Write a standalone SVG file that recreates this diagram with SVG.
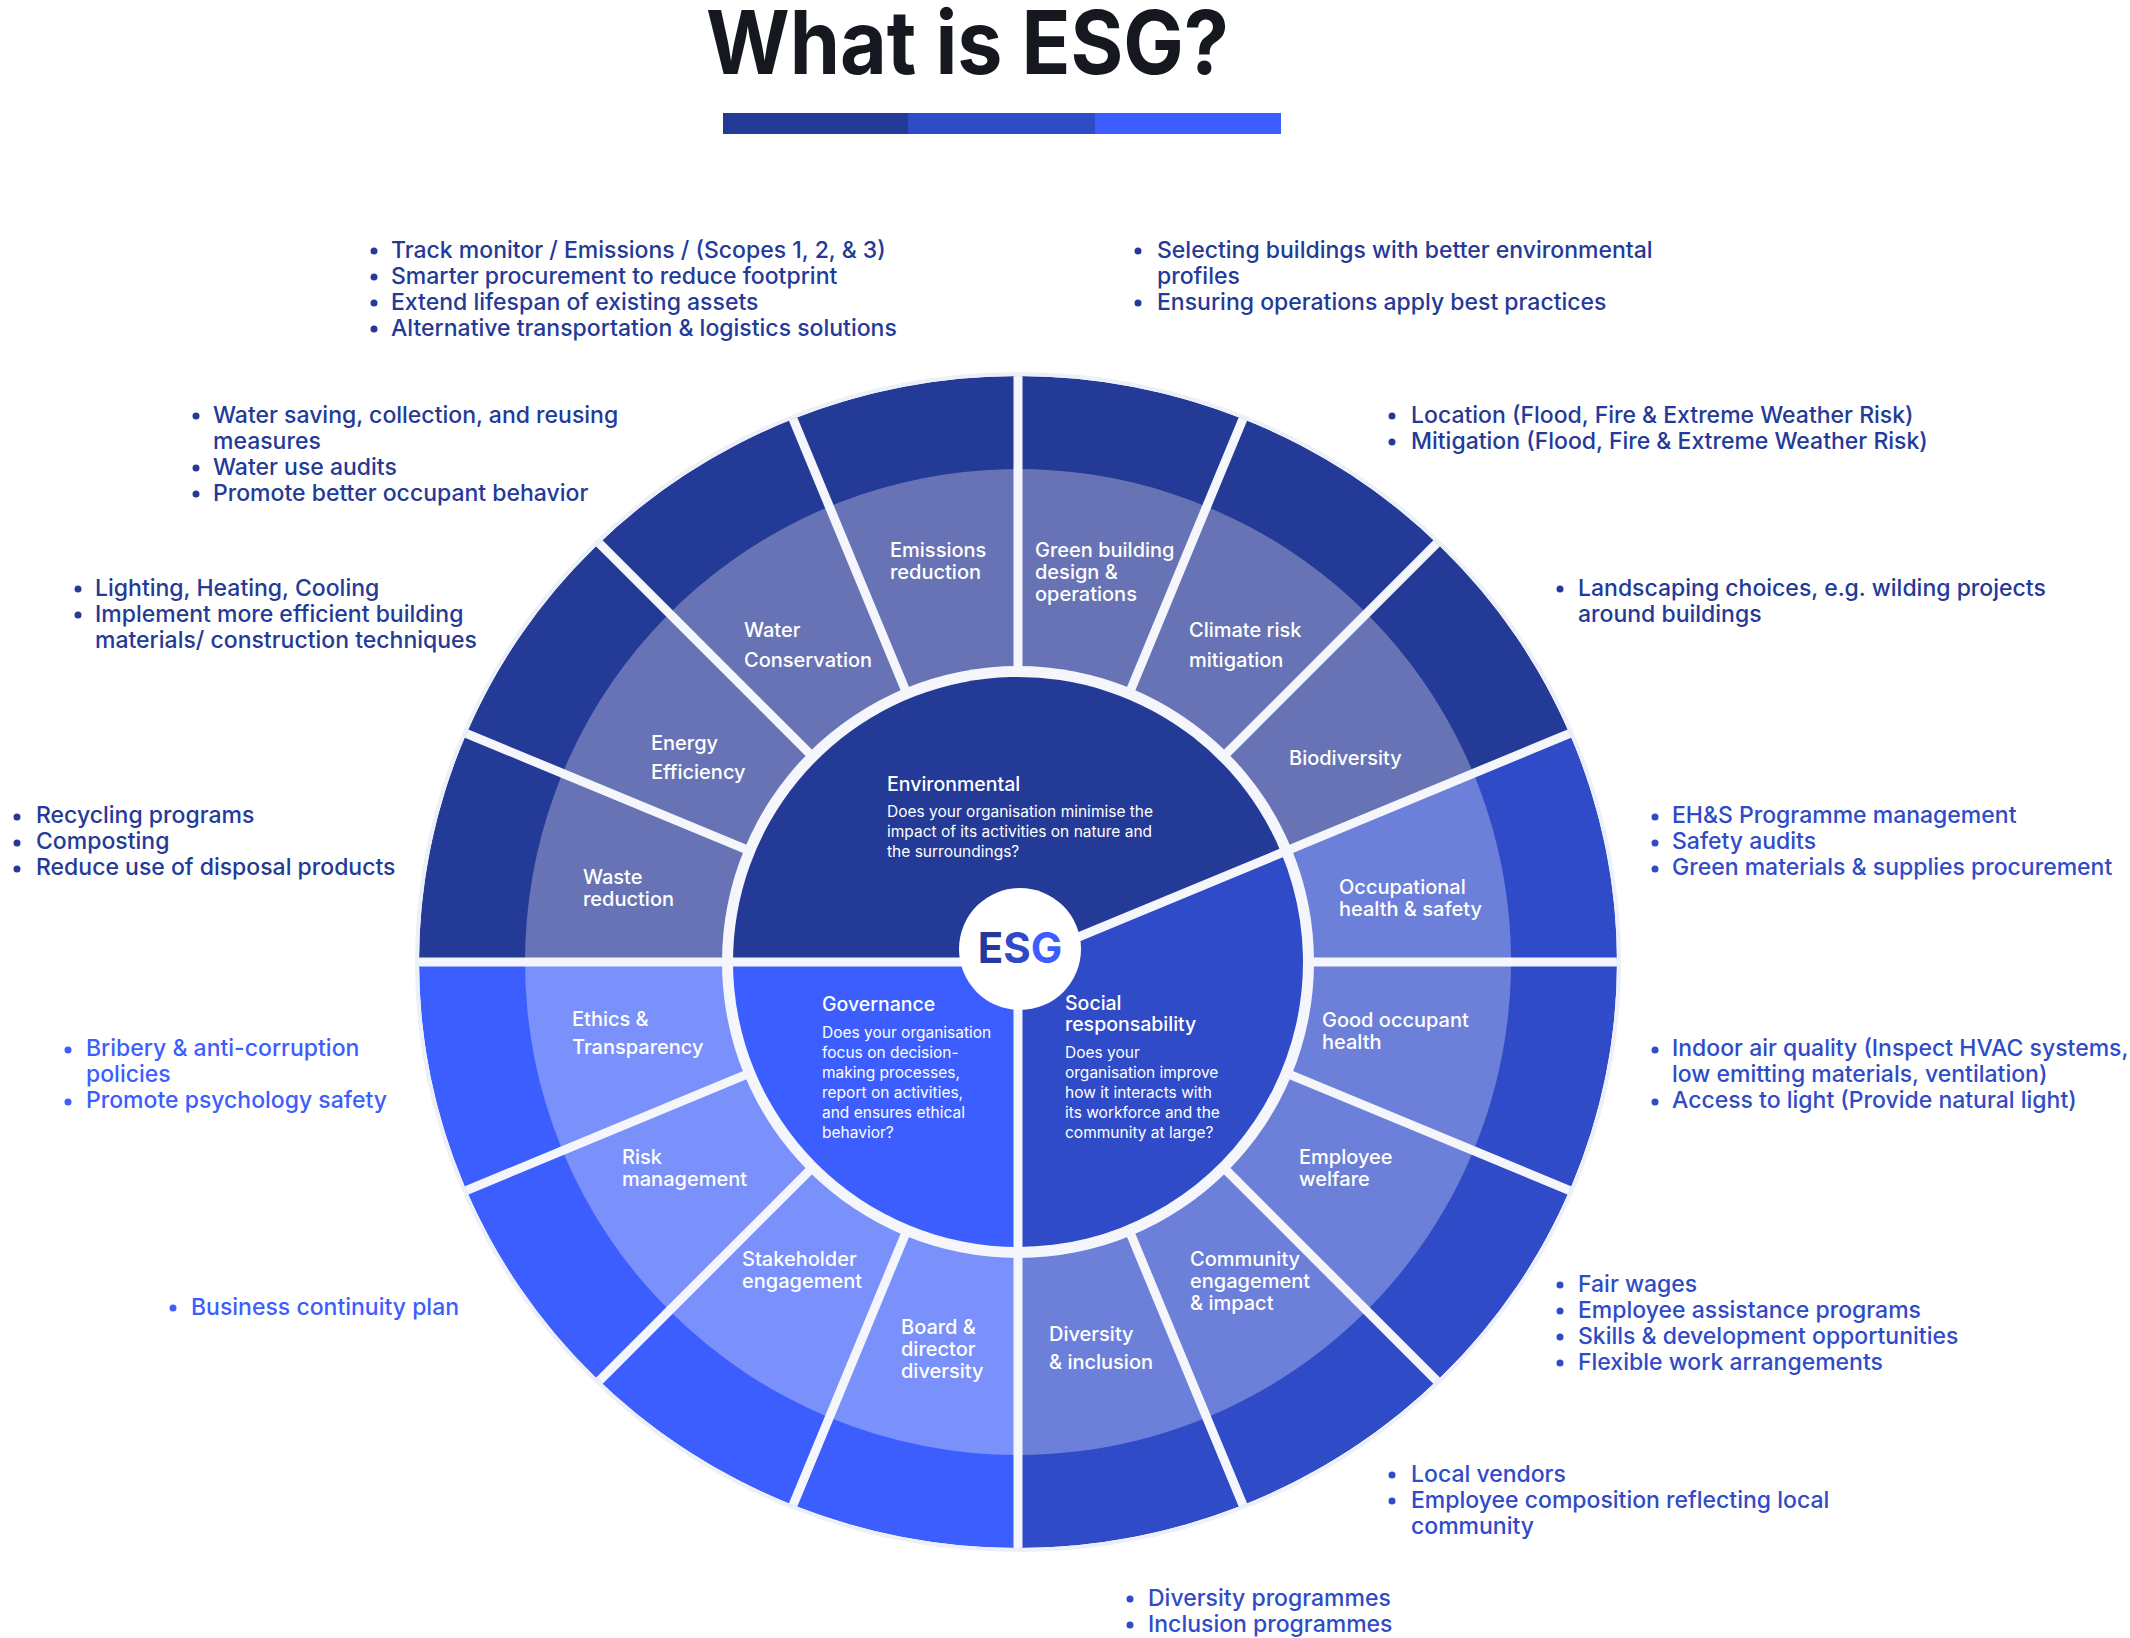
<svg xmlns="http://www.w3.org/2000/svg" width="2130" height="1638" viewBox="0 0 2130 1638">
<defs>
<style>
text{font-family:Inter,"Noto Sans","Liberation Sans",sans-serif}
.title{font-size:88px;font-weight:700;fill:#15181f}
.lbl{font-size:20px;font-weight:500;fill:#fff}
.hd{font-size:19.5px;font-weight:500;fill:#fff}
.ds{font-size:15.5px;font-weight:400;fill:#fff}
.bl{font-size:23px;font-weight:500}
.env{fill:#243a97}.soc{fill:#2f4bc7}.gov{fill:#3d5eff}
.div{stroke:#f4f6fb;stroke-width:9;fill:none}
</style>
<clipPath id="outerClip"><ellipse cx="0" cy="0" rx="599" ry="586"/></clipPath>
</defs>
<rect width="2130" height="1638" fill="#ffffff"/>

<g id="title">
<text class="title" x="706" y="74" textLength="523" lengthAdjust="spacingAndGlyphs">What is ESG?</text>
<rect x="723" y="113" width="185" height="21" fill="#243a97"/>
<rect x="908" y="113" width="187" height="21" fill="#2f4bc7"/>
<rect x="1095" y="113" width="186" height="21" fill="#3d5eff"/>
</g>

<g id="wheel" transform="translate(1018,962)">
<g clip-path="url(#outerClip)">
<g id="outer-ring">
<path class="env" d="M0 0 L-700 0 A700 700 0 0 1 646.72 -267.88 Z"/>
<path class="soc" d="M0 0 L646.72 -267.88 A700 700 0 0 1 0 700 Z"/>
<path class="gov" d="M0 0 L0 700 A700 700 0 0 1 -700 0 Z"/>
</g>
<g id="middle-ring">
<path fill="#6773b5" d="M0 0 L-493 0 A493 493 0 0 1 455.47 -188.66 Z"/>
<path fill="#6c80d9" d="M0 0 L455.47 -188.66 A493 493 0 0 1 0 493 Z"/>
<path fill="#7a90fb" d="M0 0 L0 493 A493 493 0 0 1 -493 0 Z"/>
</g>
<circle r="296" fill="#f4f6fb"/>
<g id="dividers">
<line class="div" x1="-280" y1="0" x2="-700" y2="0"/>
<line class="div" x1="-258.69" y1="-107.15" x2="-646.72" y2="-267.88"/>
<line class="div" x1="-197.99" y1="-197.99" x2="-494.97" y2="-494.97"/>
<line class="div" x1="-107.15" y1="-258.69" x2="-267.88" y2="-646.72"/>
<line class="div" x1="0" y1="-280" x2="0" y2="-700"/>
<line class="div" x1="107.15" y1="-258.69" x2="267.88" y2="-646.72"/>
<line class="div" x1="197.99" y1="-197.99" x2="494.97" y2="-494.97"/>
<line class="div" x1="258.69" y1="-107.15" x2="646.72" y2="-267.88"/>
<line class="div" x1="280" y1="0" x2="700" y2="0"/>
<line class="div" x1="258.69" y1="107.15" x2="646.72" y2="267.88"/>
<line class="div" x1="197.99" y1="197.99" x2="494.97" y2="494.97"/>
<line class="div" x1="107.15" y1="258.69" x2="267.88" y2="646.72"/>
<line class="div" x1="0" y1="280" x2="0" y2="700"/>
<line class="div" x1="-107.15" y1="258.69" x2="-267.88" y2="646.72"/>
<line class="div" x1="-197.99" y1="197.99" x2="-494.97" y2="494.97"/>
<line class="div" x1="-258.69" y1="107.15" x2="-646.72" y2="267.88"/>
</g>
</g>
<ellipse rx="601" ry="588" fill="none" stroke="#eef0f8" stroke-width="4"/>
<g id="inner-disk">
<path class="env" d="M0 0 L-285 0 A285 285 0 0 1 263.31 -109.06 Z"/>
<path class="soc" d="M0 0 L263.31 -109.06 A285 285 0 0 1 0 285 Z"/>
<path class="gov" d="M0 0 L0 285 A285 285 0 0 1 -285 0 Z"/>
<line class="div" stroke-width="10" x1="0" y1="0" x2="-290" y2="0"/>
<line class="div" stroke-width="10" x1="0" y1="0" x2="267.93" y2="-110.98"/>
<line class="div" stroke-width="10" x1="0" y1="0" x2="0" y2="290"/>
</g>
<g id="esg-core">
<circle cx="2" cy="-13" r="61" fill="#ffffff"/>
</g>
</g>
<text x="1020" y="963" text-anchor="middle" style="font-size:42px;font-weight:700"><tspan fill="#26399a">E</tspan><tspan fill="#3049c6">S</tspan><tspan fill="#3d5eff">G</tspan></text>

<g id="environmental">
<text class="hd" x="887" y="791">Environmental</text>
<text class="ds" x="887" y="817">Does your organisation minimise the</text>
<text class="ds" x="887" y="837">impact of its activities on nature and</text>
<text class="ds" x="887" y="857">the surroundings?</text>
</g>
<g id="governance">
<text class="hd" x="822" y="1011">Governance</text>
<text class="ds" x="822" y="1038">Does your organisation</text>
<text class="ds" x="822" y="1058">focus on decision-</text>
<text class="ds" x="822" y="1078">making processes,</text>
<text class="ds" x="822" y="1098">report on activities,</text>
<text class="ds" x="822" y="1118">and ensures ethical</text>
<text class="ds" x="822" y="1138">behavior?</text>
</g>
<g id="social">
<text class="hd" x="1065" y="1010">Social</text>
<text class="hd" x="1065" y="1031">responsability</text>
<text class="ds" x="1065" y="1058">Does your</text>
<text class="ds" x="1065" y="1078">organisation improve</text>
<text class="ds" x="1065" y="1098">how it interacts with</text>
<text class="ds" x="1065" y="1118">its workforce and the</text>
<text class="ds" x="1065" y="1138">community at large?</text>
</g>

<g id="seg-emissions"><text class="lbl" x="890" y="557">Emissions</text><text class="lbl" x="890" y="579">reduction</text></g>
<g id="seg-green-building"><text class="lbl" x="1035" y="557">Green building</text><text class="lbl" x="1035" y="579">design &amp;</text><text class="lbl" x="1035" y="601">operations</text></g>
<g id="seg-water"><text class="lbl" x="744" y="637">Water</text><text class="lbl" x="744" y="667">Conservation</text></g>
<g id="seg-climate"><text class="lbl" x="1189" y="637">Climate risk</text><text class="lbl" x="1189" y="667">mitigation</text></g>
<g id="seg-energy"><text class="lbl" x="651" y="750">Energy</text><text class="lbl" x="651" y="779">Efficiency</text></g>
<g id="seg-biodiversity"><text class="lbl" x="1289" y="765">Biodiversity</text></g>
<g id="seg-waste"><text class="lbl" x="583" y="884">Waste</text><text class="lbl" x="583" y="906">reduction</text></g>
<g id="seg-occupational"><text class="lbl" x="1339" y="894">Occupational</text><text class="lbl" x="1339" y="916">health &amp; safety</text></g>
<g id="seg-ethics"><text class="lbl" x="572" y="1026">Ethics &amp;</text><text class="lbl" x="572" y="1054">Transparency</text></g>
<g id="seg-good-occupant"><text class="lbl" x="1322" y="1027">Good occupant</text><text class="lbl" x="1322" y="1049">health</text></g>
<g id="seg-risk"><text class="lbl" x="622" y="1164">Risk</text><text class="lbl" x="622" y="1186">management</text></g>
<g id="seg-employee"><text class="lbl" x="1299" y="1164">Employee</text><text class="lbl" x="1299" y="1186">welfare</text></g>
<g id="seg-stakeholder"><text class="lbl" x="742" y="1266">Stakeholder</text><text class="lbl" x="742" y="1288">engagement</text></g>
<g id="seg-community"><text class="lbl" x="1190" y="1266">Community</text><text class="lbl" x="1190" y="1288">engagement</text><text class="lbl" x="1190" y="1310">&amp; impact</text></g>
<g id="seg-board"><text class="lbl" x="901" y="1334">Board &amp;</text><text class="lbl" x="901" y="1356">director</text><text class="lbl" x="901" y="1378">diversity</text></g>
<g id="seg-diversity"><text class="lbl" x="1049" y="1341">Diversity</text><text class="lbl" x="1049" y="1369">&amp; inclusion</text></g>

<g id="list-emissions" class="env">
<circle cx="374" cy="251" r="3.5"/><text class="bl env" x="391" y="258">Track monitor / Emissions / (Scopes 1, 2, &amp; 3)</text>
<circle cx="374" cy="277" r="3.5"/><text class="bl env" x="391" y="284">Smarter procurement to reduce footprint</text>
<circle cx="374" cy="303" r="3.5"/><text class="bl env" x="391" y="310">Extend lifespan of existing assets</text>
<circle cx="374" cy="329" r="3.5"/><text class="bl env" x="391" y="336">Alternative transportation &amp; logistics solutions</text>
</g>
<g id="list-green-building" class="env">
<circle cx="1138" cy="251" r="3.5"/><text class="bl env" x="1157" y="258">Selecting buildings with better environmental</text>
<text class="bl env" x="1157" y="284">profiles</text>
<circle cx="1138" cy="303" r="3.5"/><text class="bl env" x="1157" y="310">Ensuring operations apply best practices</text>
</g>
<g id="list-water" class="env">
<circle cx="196" cy="416" r="3.5"/><text class="bl env" x="213" y="423">Water saving, collection, and reusing</text>
<text class="bl env" x="213" y="449">measures</text>
<circle cx="196" cy="468" r="3.5"/><text class="bl env" x="213" y="475">Water use audits</text>
<circle cx="196" cy="494" r="3.5"/><text class="bl env" x="213" y="501">Promote better occupant behavior</text>
</g>
<g id="list-climate" class="env">
<circle cx="1392" cy="416" r="3.5"/><text class="bl env" x="1411" y="423">Location (Flood, Fire &amp; Extreme Weather Risk)</text>
<circle cx="1392" cy="442" r="3.5"/><text class="bl env" x="1411" y="449">Mitigation (Flood, Fire &amp; Extreme Weather Risk)</text>
</g>
<g id="list-energy" class="env">
<circle cx="78" cy="589" r="3.5"/><text class="bl env" x="95" y="596">Lighting, Heating, Cooling</text>
<circle cx="78" cy="615" r="3.5"/><text class="bl env" x="95" y="622">Implement more efficient building</text>
<text class="bl env" x="95" y="648">materials/ construction techniques</text>
</g>
<g id="list-biodiversity" class="env">
<circle cx="1560" cy="589" r="3.5"/><text class="bl env" x="1578" y="596">Landscaping choices, e.g. wilding projects</text>
<text class="bl env" x="1578" y="622">around buildings</text>
</g>
<g id="list-waste" class="env">
<circle cx="17" cy="817" r="3.5"/><text class="bl env" x="36" y="823">Recycling programs</text>
<circle cx="17" cy="843" r="3.5"/><text class="bl env" x="36" y="849">Composting</text>
<circle cx="17" cy="869" r="3.5"/><text class="bl env" x="36" y="875">Reduce use of disposal products</text>
</g>
<g id="list-occupational" class="soc">
<circle cx="1655" cy="817" r="3.5"/><text class="bl soc" x="1672" y="823">EH&amp;S Programme management</text>
<circle cx="1655" cy="843" r="3.5"/><text class="bl soc" x="1672" y="849">Safety audits</text>
<circle cx="1655" cy="869" r="3.5"/><text class="bl soc" x="1672" y="875">Green materials &amp; supplies procurement</text>
</g>
<g id="list-ethics" class="gov">
<circle cx="68" cy="1050" r="3.5"/><text class="bl gov" x="86" y="1056">Bribery &amp; anti-corruption</text>
<text class="bl gov" x="86" y="1082">policies</text>
<circle cx="68" cy="1102" r="3.5"/><text class="bl gov" x="86" y="1108">Promote psychology safety</text>
</g>
<g id="list-good-occupant" class="soc">
<circle cx="1655" cy="1050" r="3.5"/><text class="bl soc" x="1672" y="1056">Indoor air quality (Inspect HVAC systems,</text>
<text class="bl soc" x="1672" y="1082">low emitting materials, ventilation)</text>
<circle cx="1655" cy="1102" r="3.5"/><text class="bl soc" x="1672" y="1108">Access to light (Provide natural light)</text>
</g>
<g id="list-risk" class="gov">
<circle cx="173" cy="1308" r="3.5"/><text class="bl gov" x="191" y="1315">Business continuity plan</text>
</g>
<g id="list-employee" class="soc">
<circle cx="1560" cy="1285" r="3.5"/><text class="bl soc" x="1578" y="1292">Fair wages</text>
<circle cx="1560" cy="1311" r="3.5"/><text class="bl soc" x="1578" y="1318">Employee assistance programs</text>
<circle cx="1560" cy="1337" r="3.5"/><text class="bl soc" x="1578" y="1344">Skills &amp; development opportunities</text>
<circle cx="1560" cy="1363" r="3.5"/><text class="bl soc" x="1578" y="1370">Flexible work arrangements</text>
</g>
<g id="list-community" class="soc">
<circle cx="1392" cy="1475" r="3.5"/><text class="bl soc" x="1411" y="1482">Local vendors</text>
<circle cx="1392" cy="1501" r="3.5"/><text class="bl soc" x="1411" y="1508">Employee composition reflecting local</text>
<text class="bl soc" x="1411" y="1534">community</text>
</g>
<g id="list-diversity" class="soc">
<circle cx="1130" cy="1599" r="3.5"/><text class="bl soc" x="1148" y="1606">Diversity programmes</text>
<circle cx="1130" cy="1625" r="3.5"/><text class="bl soc" x="1148" y="1632">Inclusion programmes</text>
</g>
</svg>
